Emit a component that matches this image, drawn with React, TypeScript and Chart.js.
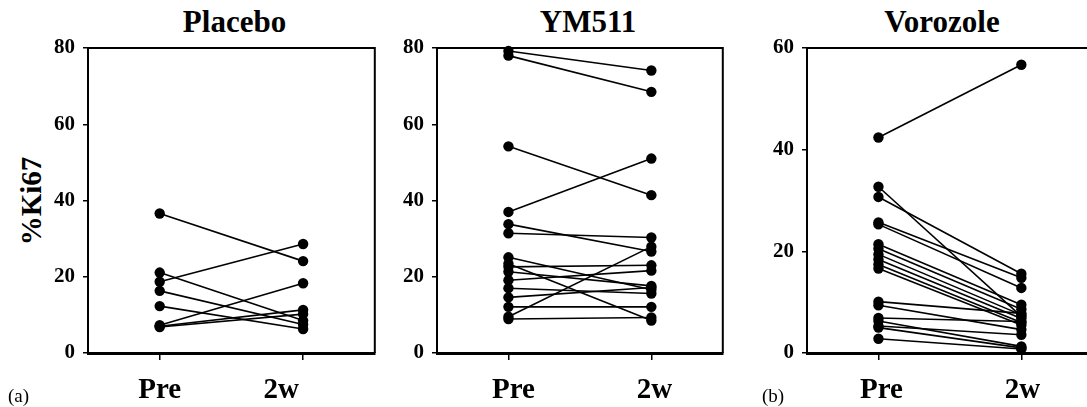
import React, { useEffect, useRef } from "react";
import { Chart, registerables } from "chart.js";

Chart.register(...registerables);

const SERIF = "'Liberation Serif', 'Times New Roman', serif";

const timepoints = ["Pre", "2w"];

const placeboPre = [36.6, 21.1, 18.7, 16.3, 12.3, 7.3, 7.0, 6.8];
const placebo2w = [24.1, 8.5, 28.6, 7.5, 6.3, 18.3, 11.3, 10.2];

const ym511Pre = [79.2, 78.0, 54.2, 37.0, 33.8, 31.4, 25.1, 23.4, 22.6, 21.3, 19.1, 17.0, 14.6, 12.1, 9.5, 8.9];
const ym5112w = [74.1, 68.5, 41.4, 51.0, 26.6, 30.3, 16.6, 8.5, 23.0, 17.6, 21.6, 15.6, 17.2, 12.1, 27.9, 9.3];

const vorozolePre = [42.4, 32.7, 30.7, 25.7, 25.3, 21.4, 20.5, 19.4, 18.4, 17.4, 16.6, 10.1, 9.4, 6.9, 6.3, 5.3, 5.0, 2.8];
const vorozole2w = [56.7, 7.2, 15.6, 14.8, 12.8, 9.5, 8.6, 7.5, 6.8, 6.0, 5.5, 7.8, 4.6, 6.2, 1.3, 3.6, 1.0, 0.8];

const ticks80 = [0, 20, 40, 60, 80];
const ticks60 = [0, 20, 40, 60];

type PanelProps = {
  pre: number[];
  post: number[];
  yMax: number;
  yTicks: number[];
  boxLeft: number;
  boxWidth: number;
  labelOffsets: number[];
};

const AXIS_W = 60;
const TOP = 20;
const PAD_TOP = 28;
const PAD_RIGHT = 4;
const X_AXIS_H = 54;
const CANVAS_H = 407 - TOP;

function Panel({ pre, post, yMax, yTicks, boxLeft, boxWidth, labelOffsets }: PanelProps) {
  const ref = useRef<HTMLCanvasElement>(null);
  const width = boxWidth + AXIS_W + PAD_RIGHT;

  useEffect(() => {
    const datasets = pre.map((v, i) => ({
      data: [
        { x: 0, y: v },
        { x: 1, y: post[i] },
      ],
      showLine: true,
      borderColor: "#000",
      backgroundColor: "#000",
      borderWidth: 1.6,
      pointRadius: 5.2,
      pointHoverRadius: 5.2,
      pointBorderWidth: 0,
      clip: false as any,
    }));

    const boxPlugin = {
      id: "boxPlugin",
      beforeDatasetsDraw(chart: any) {
        const { ctx, chartArea } = chart;
        ctx.save();
        ctx.strokeStyle = "#000";
        ctx.lineWidth = 2;
        ctx.beginPath();
        ctx.moveTo(chartArea.left, chartArea.top);
        ctx.lineTo(chartArea.right, chartArea.top);
        ctx.lineTo(chartArea.right, chartArea.bottom);
        ctx.stroke();
        ctx.restore();
      },
    };

    const xLabelPlugin = {
      id: "xLabelPlugin",
      afterDraw(chart: any) {
        const { ctx, chartArea } = chart;
        const xs = chart.scales.x;
        ctx.save();
        ctx.fillStyle = "#000";
        ctx.font = `bold 29px ${SERIF}`;
        ctx.textAlign = "center";
        ctx.textBaseline = "alphabetic";
        timepoints.forEach((t, i) => {
          const px = xs.getPixelForValue(i) + labelOffsets[i];
          ctx.fillText(t, px, chartArea.bottom + 45);
        });
        ctx.restore();
      },
    };

    const chart = new Chart(ref.current!, {
      type: "scatter",
      data: { datasets: datasets as any },
      options: {
        animation: false,
        responsive: false,
        events: [],
        layout: { padding: { top: PAD_TOP, right: PAD_RIGHT, left: 0, bottom: 0 } },
        plugins: {
          legend: { display: false },
          tooltip: { enabled: false },
        },
        scales: {
          x: {
            type: "linear",
            min: -0.5,
            max: 1.5,
            afterBuildTicks: (s: any) => {
              s.ticks = timepoints.map((_, i) => ({ value: i }));
            },
            afterFit: (s: any) => {
              s.height = X_AXIS_H;
            },
            ticks: { display: false },
            grid: {
              drawOnChartArea: false,
              drawTicks: true,
              tickLength: 7,
              color: "#000",
              lineWidth: 1.5,
            },
            border: { display: true, color: "#000", width: 3 },
          },
          y: {
            type: "linear",
            min: 0,
            max: yMax,
            afterBuildTicks: (s: any) => {
              s.ticks = yTicks.map((v) => ({ value: v }));
            },
            afterFit: (s: any) => {
              s.width = AXIS_W;
            },
            ticks: {
              color: "#000",
              padding: 8,
              font: { family: SERIF, size: 21, weight: "bold" },
            },
            grid: {
              drawOnChartArea: false,
              drawTicks: true,
              tickLength: 5,
              color: "#000",
              lineWidth: 1.5,
            },
            border: { display: true, color: "#000", width: 2 },
          },
        },
      } as any,
      plugins: [boxPlugin, xLabelPlugin],
    });
    return () => chart.destroy();
  }, []);

  return (
    <canvas
      ref={ref}
      width={width}
      height={CANVAS_H}
      style={{
        position: "absolute",
        left: boxLeft - AXIS_W,
        top: TOP,
        width,
        height: CANVAS_H,
      }}
    />
  );
}

function Title({ text, cx }: { text: string; cx: number }) {
  return (
    <div
      style={{
        position: "absolute",
        left: cx - 150,
        top: 6,
        width: 300,
        textAlign: "center",
        fontFamily: SERIF,
        fontWeight: "bold",
        fontSize: 31,
        lineHeight: "31px",
        color: "#000",
        whiteSpace: "nowrap",
      }}
    >
      {text}
    </div>
  );
}

function Note({ text, left }: { text: string; left: number }) {
  return (
    <div
      style={{
        position: "absolute",
        left,
        top: 387,
        fontFamily: SERIF,
        fontSize: 19,
        lineHeight: "18px",
        color: "#000",
        whiteSpace: "nowrap",
      }}
    >
      {text}
    </div>
  );
}

export default function App() {
  return (
    <div
      style={{
        position: "fixed",
        left: 0,
        top: 0,
        width: 1087,
        height: 407,
        overflow: "hidden",
        background: "#fff",
      }}
    >
      <Title text="Placebo" cx={234.5} />
      <Title text="YM511" cx={588} />
      <Title text="Vorozole" cx={942} />
      <div
        style={{
          position: "absolute",
          left: 31 - 100,
          top: 201 - 20,
          width: 200,
          height: 40,
          lineHeight: "40px",
          textAlign: "center",
          fontFamily: SERIF,
          fontWeight: "bold",
          fontSize: 29,
          color: "#000",
          transform: "rotate(-90deg)",
          whiteSpace: "nowrap",
        }}
      >
        %Ki67
      </div>
      <Panel pre={placeboPre} post={placebo2w} yMax={80} yTicks={ticks80} boxLeft={88} boxWidth={288} labelOffsets={[0, -22]} />
      <Panel pre={ym511Pre} post={ym5112w} yMax={80} yTicks={ticks80} boxLeft={437} boxWidth={287} labelOffsets={[5, 3]} />
      <Panel pre={vorozolePre} post={vorozole2w} yMax={60} yTicks={ticks60} boxLeft={807} boxWidth={287} labelOffsets={[3, 1]} />
      <Note text="(a)" left={8} />
      <Note text="(b)" left={762} />
    </div>
  );
}
